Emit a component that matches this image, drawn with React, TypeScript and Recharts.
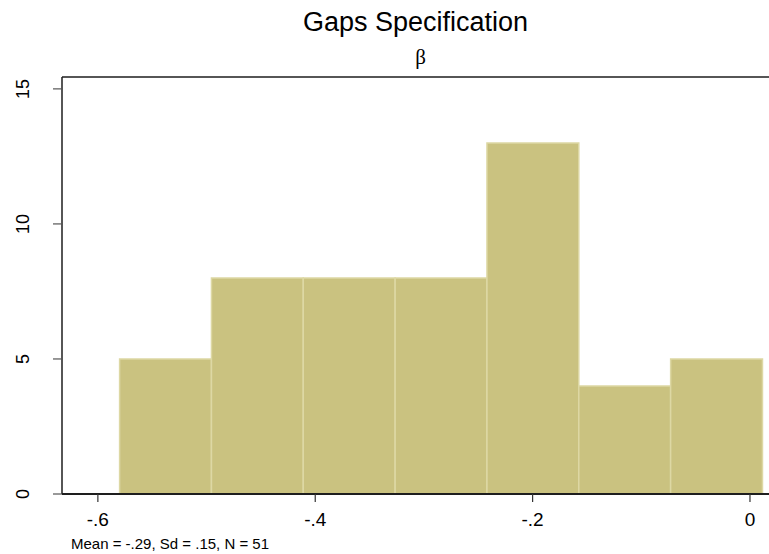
import React from 'react'
import {
  ComposedChart,
  XAxis,
  YAxis,
  ReferenceArea,
  ReferenceLine
} from 'recharts'

// histogram of beta estimates, bins
const binEdges = [-0.58, -0.4955, -0.411, -0.3265, -0.242, -0.1575, -0.073, 0.0115]
const counts = [5, 8, 8, 8, 13, 4, 5]
const xTicks = [-0.6, -0.4, -0.2, 0]
const yTicks = [0, 5, 10, 15]
const xDomain = [-0.633, 0.0175]
const yDomain = [0, 15.44]

const bins = counts.map((c, i) => ({ lo: binEdges[i], hi: binEdges[i + 1], count: c }))

const fmt = (v: number) => {
  if (v === 0) return '0'
  return String(v).replace('0.', '.')
}

const font = '"Liberation Sans", Arial, sans-serif'

const YTick = (props: any) => {
  const { x, y, payload } = props
  const bx = x - 22
  return (
    <text
      x={bx}
      y={y}
      transform={`rotate(-90, ${bx}, ${y})`}
      textAnchor='middle'
      fontSize={18}
      fontFamily={font}
      fill='#000'
    >
      {payload.value}
    </text>
  )
}

export default function App() {
  return (
    <div style={{ position: 'absolute', left: 0, top: 0, width: 769, height: 554, background: '#fff' }}>
      <div
        style={{
          position: 'absolute', top: 9, left: 0, width: 831, textAlign: 'center',
          fontFamily: font, fontSize: 27, lineHeight: '27px', color: '#000'
        }}
      >
        Gaps Specification
      </div>
      <div
        style={{
          position: 'absolute', top: 47, left: 5, width: 831, textAlign: 'center',
          fontFamily: '"Liberation Serif", serif', fontSize: 21, lineHeight: '21px', color: '#000'
        }}
      >
        β
      </div>
      <ComposedChart
        width={769}
        height={554}
        data={bins}
        margin={{ top: 77, right: 0, left: 0, bottom: 0 }}
      >
        <XAxis
          dataKey='lo'
          type='number'
          domain={xDomain}
          allowDataOverflow
          ticks={xTicks}
          tickFormatter={fmt}
          height={60}
          tickSize={8}
          tickMargin={11}
          axisLine={{ stroke: '#1e1e1e', strokeWidth: 2 }}
          tickLine={{ stroke: '#333', strokeWidth: 1.2 }}
          tick={{ fontSize: 19, fontFamily: font, fill: '#000' }}
        />
        <YAxis
          type='number'
          domain={yDomain}
          allowDataOverflow
          ticks={yTicks}
          width={62}
          tickSize={9}
          axisLine={{ stroke: '#1e1e1e', strokeWidth: 1.5 }}
          tickLine={{ stroke: '#555', strokeWidth: 1.2 }}
          tick={<YTick />}
        />
        {bins.map((b, i) => (
          <ReferenceArea
            key={i}
            x1={b.lo}
            x2={b.hi}
            y1={0}
            y2={b.count}
            fill='#cac280'
            fillOpacity={1}
            stroke='#ddd8a4'
            strokeWidth={1.5}
          />
        ))}
        <ReferenceLine y={yDomain[1]} stroke='#1e1e1e' strokeWidth={1.5} />
      </ComposedChart>
      <div
        style={{
          position: 'absolute', top: 536, left: 71,
          fontFamily: font, fontSize: 15, lineHeight: '15px', color: '#000', whiteSpace: 'nowrap'
        }}
      >
        Mean = -.29, Sd = .15, N = 51
      </div>
    </div>
  )
}
